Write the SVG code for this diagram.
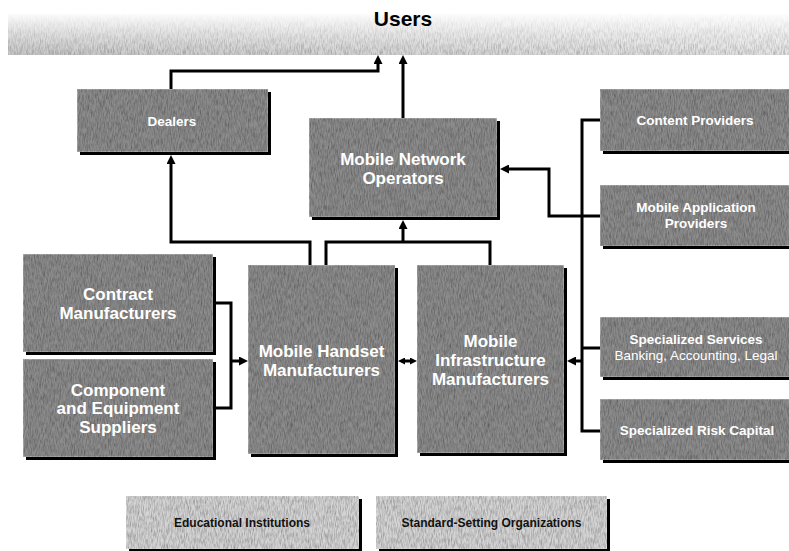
<svg xmlns="http://www.w3.org/2000/svg" width="789" height="551" viewBox="0 0 789 551">
<defs>
<filter id="grain" x="0" y="0" width="100%" height="100%">
<feTurbulence type="fractalNoise" baseFrequency="1.3 0.18" numOctaves="2" seed="7" result="n"/>
<feColorMatrix in="n" type="matrix" values="0 0 0 0 0  0 0 0 0 0  0 0 0 0 0  1.0 0 0 0 -0.33" result="dark"/>
<feComposite in="dark" in2="SourceGraphic" operator="in" result="d2"/>
<feMerge><feMergeNode in="SourceGraphic"/><feMergeNode in="d2"/></feMerge>
</filter>
<linearGradient id="usersH" x1="0" y1="0" x2="1" y2="0">
<stop offset="0" stop-color="#c4c4c4"/>
<stop offset="1" stop-color="#e2e2e2"/>
</linearGradient>
<linearGradient id="usersV" x1="0" y1="0" x2="0" y2="1">
<stop offset="0" stop-color="#ffffff" stop-opacity="0.95"/>
<stop offset="0.5" stop-color="#ffffff" stop-opacity="0.45"/>
<stop offset="1" stop-color="#ffffff" stop-opacity="0.05"/>
</linearGradient>
<marker id="arr" markerUnits="userSpaceOnUse" markerWidth="9" markerHeight="9" refX="3" refY="4.5" orient="auto">
<path d="M0,0 L9,4.5 L0,9 z" fill="#000"/>
</marker>
<marker id="arrs" markerUnits="userSpaceOnUse" markerWidth="7" markerHeight="7" refX="2" refY="3.5" orient="auto-start-reverse">
<path d="M0,0 L7,3.5 L0,7 z" fill="#000"/>
</marker>
</defs>
<style>
.sh{fill:#000}
.bx{fill:#8c8c8c;stroke:#c4c4c4;stroke-width:1}
.lb{fill:#d4d4d4;stroke:#e4e4e4;stroke-width:1}
.t{font-family:"Liberation Sans",Arial,Helvetica,sans-serif;font-weight:bold;fill:#fff;text-anchor:middle}
.big{font-size:17px}
.sm{font-size:13.5px}
.tb{font-family:"Liberation Sans",Arial,Helvetica,sans-serif;font-weight:bold;fill:#111;text-anchor:middle;font-size:12px}
.reg{font-weight:normal}
.c{fill:none;stroke:#000;stroke-width:3}
</style>
<rect width="789" height="551" fill="#fff"/>

<g id="users">
<rect x="8" y="14" width="781" height="41" fill="url(#usersH)" filter="url(#grain)"/>
<rect x="8" y="14" width="781" height="41" fill="url(#usersV)"/>
<text x="403" y="26" class="t" style="fill:#000;font-size:21px">Users</text>
</g>

<g id="connectors">
<path class="c" d="M171,89 V71 H378 V61" marker-end="url(#arr)"/>
<path class="c" d="M403,118 V61" marker-end="url(#arr)"/>
<path class="c" d="M310,265 V242 H171 V161" marker-end="url(#arr)"/>
<path class="c" d="M326,265 V242 H490 V265"/>
<path class="c" d="M403,242 V226" marker-end="url(#arr)"/>
<path class="c" d="M600,120 H582 V431 H600"/>
<path class="c" d="M582,348 H600"/>
<path class="c" d="M582,361 H573" marker-end="url(#arr)"/>
<path class="c" d="M600,216 H549 V169 H506" marker-end="url(#arr)"/>
<path class="c" d="M216,303 H231 V408 H216"/>
<path class="c" d="M231,361 H242" marker-end="url(#arr)"/>
<path class="c" d="M403,361 H412" marker-start="url(#arrs)" marker-end="url(#arrs)"/>
</g>

<g id="dealers">
<rect class="sh" x="80" y="92" width="191" height="63"/>
<rect class="bx" x="77" y="89" width="191" height="63" filter="url(#grain)"/>
<text class="t sm" x="172" y="126">Dealers</text>
</g>

<g id="mno">
<rect class="sh" x="312" y="121" width="188" height="99"/>
<rect class="bx" x="309" y="118" width="188" height="99" filter="url(#grain)"/>
<text class="t big" x="403" y="165">Mobile Network</text>
<text class="t big" x="403" y="184">Operators</text>
</g>

<g id="content">
<rect class="sh" x="603" y="92" width="195" height="62"/>
<rect class="bx" x="600" y="89" width="195" height="62" filter="url(#grain)"/>
<text class="t sm" x="695" y="125">Content Providers</text>
</g>

<g id="mapps">
<rect class="sh" x="603" y="188" width="195" height="61"/>
<rect class="bx" x="600" y="185" width="195" height="61" filter="url(#grain)"/>
<text class="t sm" x="696" y="212">Mobile Application</text>
<text class="t sm" x="696" y="228">Providers</text>
</g>

<g id="services">
<rect class="sh" x="603" y="320" width="195" height="60"/>
<rect class="bx" x="600" y="317" width="195" height="60" filter="url(#grain)"/>
<text class="t sm" x="696" y="344">Specialized Services</text>
<text class="t sm reg" x="696" y="360">Banking, Accounting, Legal</text>
</g>

<g id="riskcapital">
<rect class="sh" x="603" y="402" width="195" height="61"/>
<rect class="bx" x="600" y="399" width="195" height="61" filter="url(#grain)"/>
<text class="t sm" x="697" y="435">Specialized Risk Capital</text>
</g>

<g id="contract">
<rect class="sh" x="26" y="257" width="190" height="98"/>
<rect class="bx" x="23" y="254" width="190" height="98" filter="url(#grain)"/>
<text class="t big" x="118" y="300">Contract</text>
<text class="t big" x="118" y="319">Manufacturers</text>
</g>

<g id="component">
<rect class="sh" x="26" y="362" width="190" height="98"/>
<rect class="bx" x="23" y="359" width="190" height="98" filter="url(#grain)"/>
<text class="t big" x="118" y="396">Component</text>
<text class="t big" x="118" y="414">and Equipment</text>
<text class="t big" x="118" y="433">Suppliers</text>
</g>

<g id="handset">
<rect class="sh" x="251" y="268" width="147" height="189"/>
<rect class="bx" x="248" y="265" width="147" height="189" filter="url(#grain)"/>
<text class="t big" x="321.5" y="357">Mobile Handset</text>
<text class="t big" x="321.5" y="376">Manufacturers</text>
</g>

<g id="infrastructure">
<rect class="sh" x="420" y="268" width="147" height="188"/>
<rect class="bx" x="417" y="265" width="147" height="188" filter="url(#grain)"/>
<text class="t big" x="490.5" y="347">Mobile</text>
<text class="t big" x="490.5" y="366">Infrastructure</text>
<text class="t big" x="490.5" y="385">Manufacturers</text>
</g>

<g id="education">
<rect class="sh" x="129" y="499" width="233" height="53"/>
<rect class="lb" x="126" y="496" width="233" height="53" filter="url(#grain)"/>
<text class="tb" x="242" y="527">Educational Institutions</text>
</g>

<g id="standards">
<rect class="sh" x="379" y="499" width="231" height="53"/>
<rect class="lb" x="376" y="496" width="231" height="53" filter="url(#grain)"/>
<text class="tb" x="491.5" y="527">Standard-Setting Organizations</text>
</g>
</svg>
